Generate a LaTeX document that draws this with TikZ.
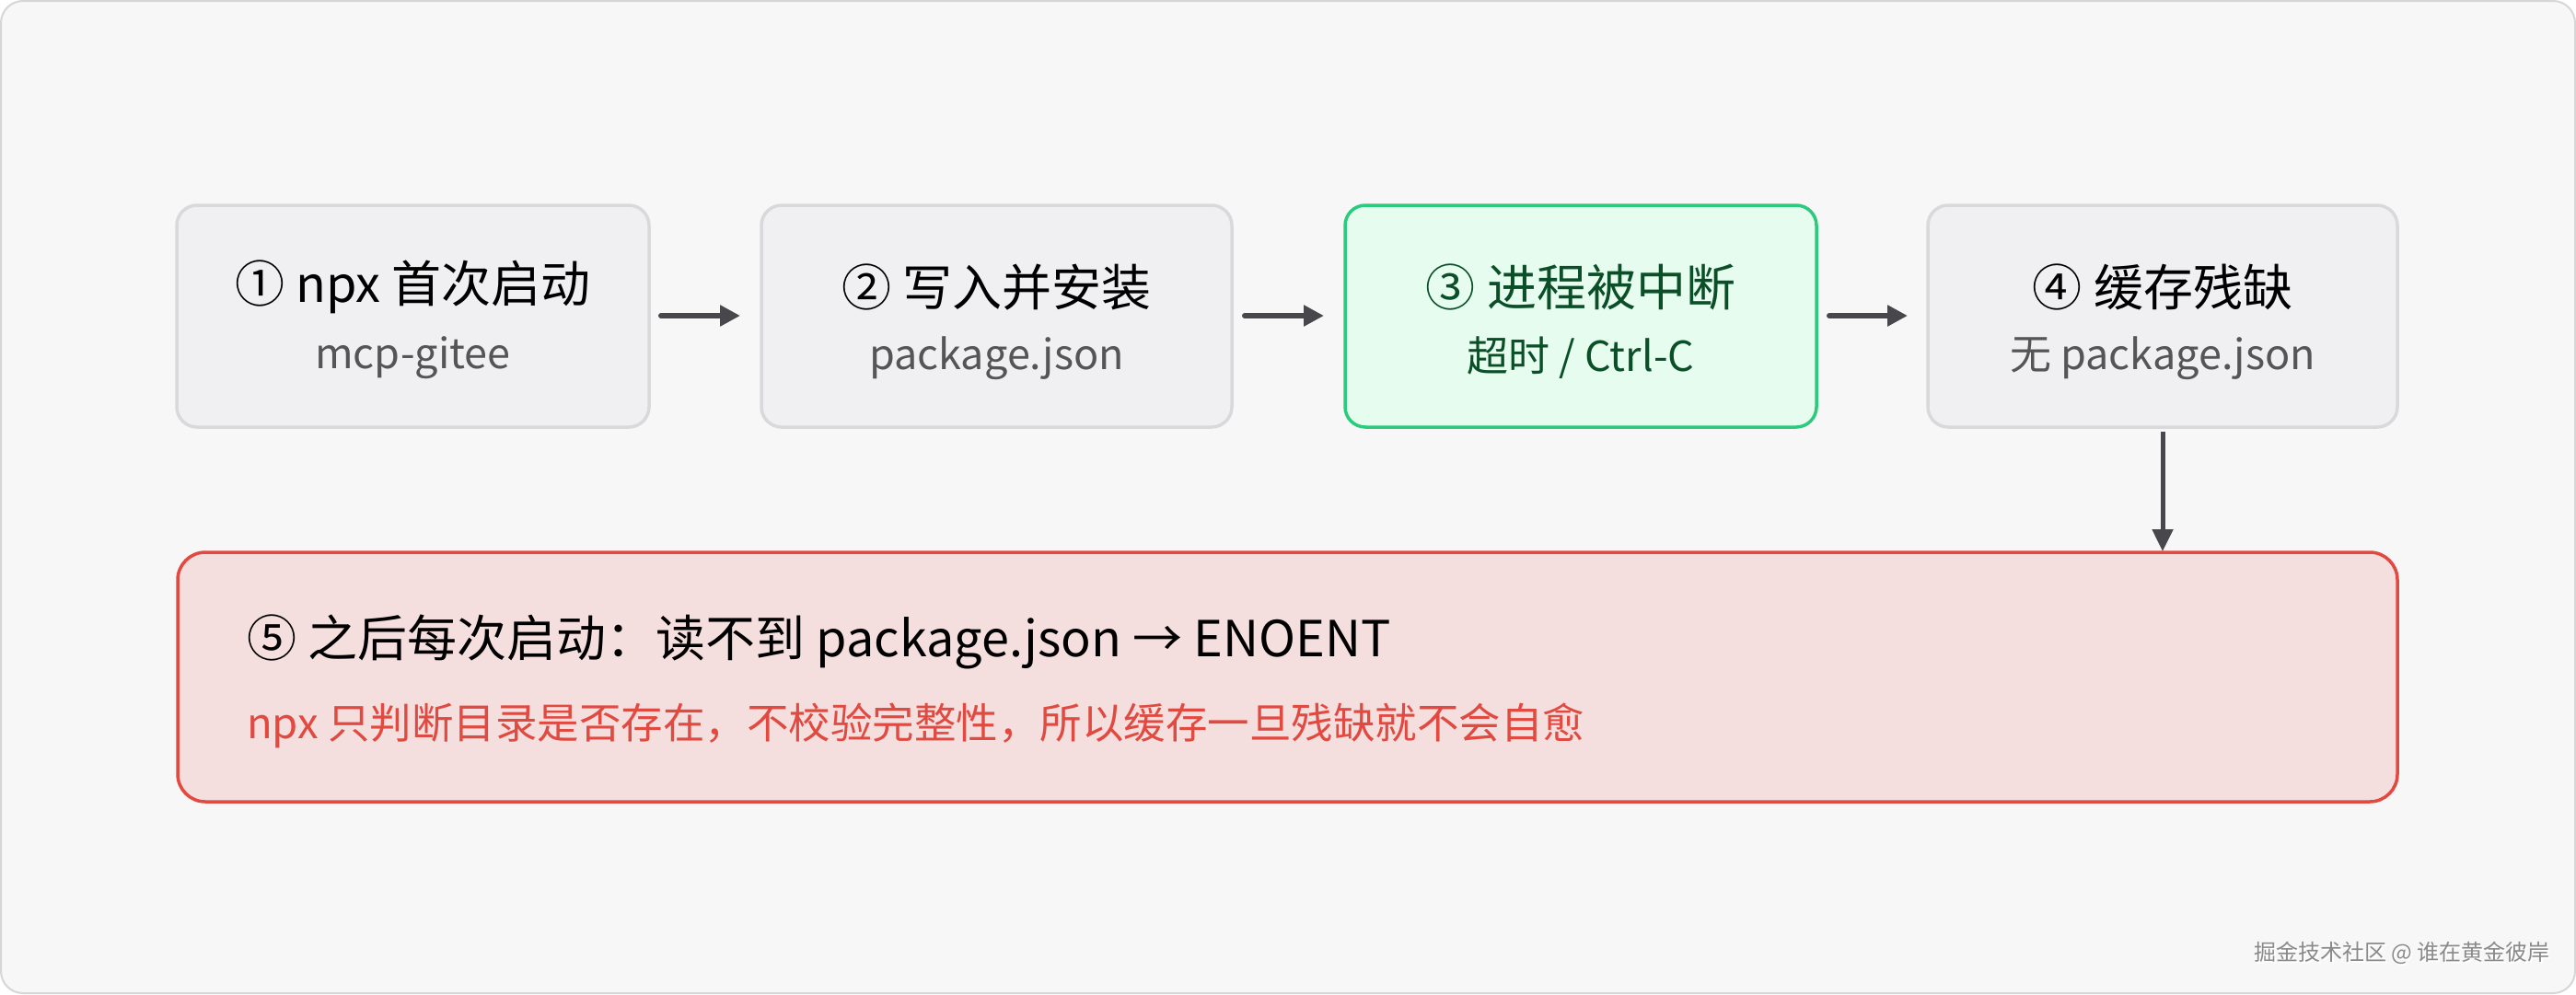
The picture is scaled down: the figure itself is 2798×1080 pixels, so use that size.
\documentclass[tikz,border=0pt]{standalone}
\usepackage{fontspec}
\setmainfont{Noto Sans CJK SC}
\usetikzlibrary{arrows.meta}
\definecolor{bgc}{HTML}{F7F7F7}
\definecolor{frame}{HTML}{D6D6D6}
\definecolor{gfill}{HTML}{F0F0F2}
\definecolor{gdraw}{HTML}{D9D9DB}
\definecolor{grnfill}{HTML}{E6FCEF}
\definecolor{grndraw}{HTML}{2BCB7D}
\definecolor{grntext}{HTML}{0A4F28}
\definecolor{redfill}{HTML}{F5DEDE}
\definecolor{reddraw}{HTML}{E04A40}
\definecolor{redtext}{HTML}{E04A40}
\definecolor{subgray}{HTML}{555558}
\definecolor{arr}{HTML}{48484C}
\definecolor{wm}{HTML}{8A8A8A}
\tikzset{
  stepbox/.style={draw=gdraw, fill=gfill, line width=3.5pt, rounded corners=22pt},
  greenbox/.style={draw=grndraw, fill=grnfill, line width=3.5pt, rounded corners=22pt},
  redbox/.style={draw=reddraw, fill=redfill, line width=3.5pt, rounded corners=30pt},
  ttl/.style={font=\fontsize{54}{62}\selectfont, text=black, inner sep=0pt},
  sub/.style={font=\fontsize{45}{52}\selectfont, text=subgray, inner sep=0pt},
  flow/.style={draw=arr, line width=6pt, line cap=round, -{Triangle[length=22pt,width=22pt]}},
  down/.style={draw=arr, line width=5pt, -{Triangle[length=24pt,width=22pt]}}
}
\begin{document}
\begin{tikzpicture}[x=1pt,y=-1pt]
\useasboundingbox (0,0) rectangle (2798,1080);
\fill[bgc, draw=frame, line width=2pt, rounded corners=24pt] (1,1) rectangle (2797,1079);
% boxes
\draw[stepbox] (192,223) rectangle (705,464);
\draw[stepbox] (827,223) rectangle (1338,464);
\draw[greenbox] (1461,223) rectangle (1973,464);
\draw[stepbox] (2094,223) rectangle (2604,464);
\draw[redbox] (193,600) rectangle (2604,871);
\coordinate (b1e) at (718,343);
\coordinate (b2w) at (804,343);
\coordinate (b2e) at (1352,343);
\coordinate (b3w) at (1438,343);
\coordinate (b3e) at (1987,343);
\coordinate (b4w) at (2072,343);
\coordinate (b4s) at (2349,469);
\coordinate (b5n) at (2349,599);
\node[ttl] (t1) at (448.5,312) {① npx 首次启动};
\node[sub] (s1) at (448.5,389) {mcp-gitee};
\node[ttl] (t2) at (1082.5,312) {② 写入并安装};
\node[sub] (s2) at (1082.5,389) {package.json};
\node[ttl, text=grntext] (t3) at (1717,312) {③ 进程被中断};
\node[sub, text=grntext] (s3) at (1717,389) {超时 / Ctrl-C};
\node[ttl] (t4) at (2349,312) {④ 缓存残缺};
\node[sub] (s4) at (2349,389) {无 package.json};
\node[ttl, anchor=west] (t5) at (268,697) {⑤ 之后每次启动：读不到 package.json → ENOENT};
\node[sub, anchor=west, text=redtext, font=\fontsize{45.5}{52}\selectfont] (s5) at (268,788) {npx 只判断目录是否存在，不校验完整性，所以缓存一旦残缺就不会自愈};
\draw[flow] (b1e) -- (b2w);
\draw[flow] (b2e) -- (b3w);
\draw[flow] (b3e) -- (b4w);
\draw[down] (b4s) -- (b5n);
\node[font=\fontsize{24}{28}\selectfont, text=white, inner sep=0pt, anchor=east] (wmsh) at (2772,1037) {掘金技术社区 @ 谁在黄金彼岸};
\node[font=\fontsize{24}{28}\selectfont, text=wm, inner sep=0pt, anchor=east] (wmk) at (2770,1035) {掘金技术社区 @ 谁在黄金彼岸};
\end{tikzpicture}
\end{document}
